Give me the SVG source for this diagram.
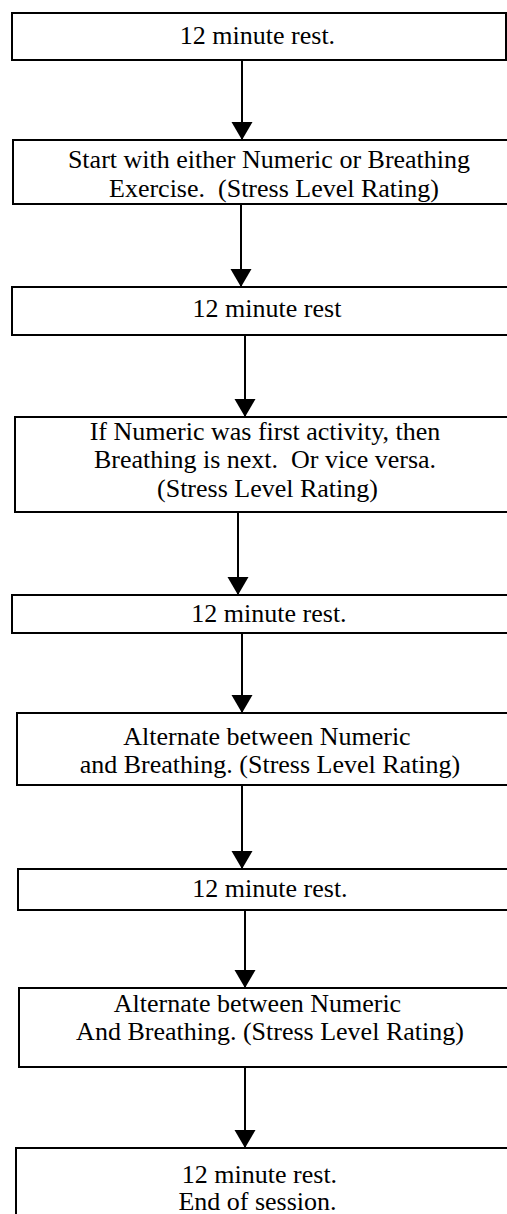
<svg xmlns="http://www.w3.org/2000/svg" width="507" height="1214" viewBox="0 0 507 1214">
<style>
.box{fill:#fff;stroke:#000;stroke-width:2}
.t{font-family:'Liberation Serif','Times New Roman',Tinos,'DejaVu Serif',serif;font-size:26px;fill:#000;text-anchor:middle;white-space:pre}
.c{stroke:#000;stroke-width:2;fill:none}
</style>
<defs>
<marker id="ah" markerUnits="userSpaceOnUse" markerWidth="19" markerHeight="22" refX="18" refY="10.5" orient="auto" viewBox="0 0 19 22">
<path d="M0,0 L18,10.5 L0,21 z" fill="#000"/>
</marker>
</defs>
<rect width="507" height="1214" fill="#fff"/>
<g id="connectors">
<line class="c" x1="242" y1="60" x2="242" y2="140" marker-end="url(#ah)"/>
<line class="c" x1="241" y1="204" x2="241" y2="287" marker-end="url(#ah)"/>
<line class="c" x1="245" y1="335" x2="245" y2="417" marker-end="url(#ah)"/>
<line class="c" x1="238" y1="512" x2="238" y2="595" marker-end="url(#ah)"/>
<line class="c" x1="242" y1="633" x2="242" y2="713" marker-end="url(#ah)"/>
<line class="c" x1="242" y1="785" x2="242" y2="869" marker-end="url(#ah)"/>
<line class="c" x1="245" y1="910" x2="245" y2="988" marker-end="url(#ah)"/>
<line class="c" x1="245" y1="1067" x2="245" y2="1148" marker-end="url(#ah)"/>
</g>
<g id="n1"><rect class="box" x="12" y="13" width="494" height="47"/><text class="t" font-family="Liberation Serif" x="257.5" y="44">12 minute rest.</text></g>
<g id="n2"><rect class="box" x="13" y="140" width="500" height="64"/><text class="t" x="269" y="168">Start with either Numeric or Breathing</text><text class="t" x="274" y="197" xml:space="preserve">Exercise.  (Stress Level Rating)</text></g>
<g id="n3"><rect class="box" x="12" y="287" width="500" height="48"/><text class="t" x="267" y="317">12 minute rest</text></g>
<g id="n4"><rect class="box" x="15" y="417" width="500" height="95"/><text class="t" x="265" y="440">If Numeric was first activity, then</text><text class="t" x="265" y="468" xml:space="preserve">Breathing is next.  Or vice versa.</text><text class="t" x="267.5" y="497">(Stress Level Rating)</text></g>
<g id="n5"><rect class="box" x="12" y="595" width="500" height="38"/><text class="t" x="269" y="622">12 minute rest.</text></g>
<g id="n6"><rect class="box" x="17" y="713" width="500" height="72"/><text class="t" x="267" y="745">Alternate between Numeric</text><text class="t" x="270" y="773">and Breathing. (Stress Level Rating)</text></g>
<g id="n7"><rect class="box" x="18" y="869" width="500" height="41"/><text class="t" x="270" y="897">12 minute rest.</text></g>
<g id="n8"><rect class="box" x="19" y="988" width="500" height="79"/><text class="t" x="257.5" y="1012">Alternate between Numeric</text><text class="t" x="270" y="1040">And Breathing. (Stress Level Rating)</text></g>
<g id="n9"><rect class="box" x="16" y="1148" width="500" height="80"/><text class="t" x="259.5" y="1183">12 minute rest.</text><text class="t" x="257.5" y="1210">End of session.</text></g>
</svg>
